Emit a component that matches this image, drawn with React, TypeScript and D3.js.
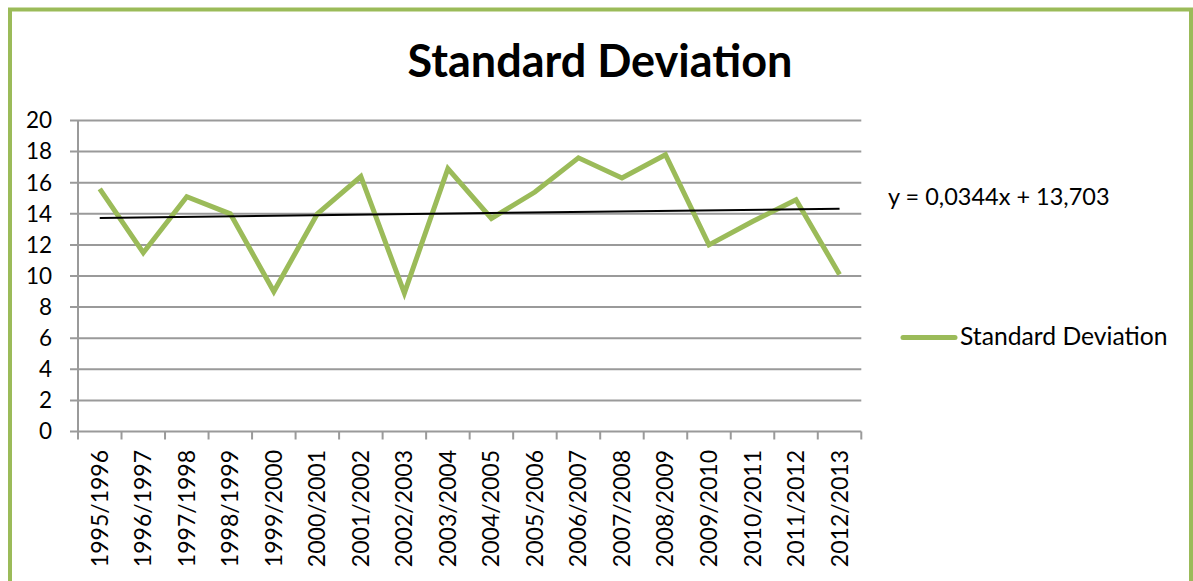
import React from "react";
import * as d3 from "d3";

const categories = [
  "1995/1996", "1996/1997", "1997/1998", "1998/1999", "1999/2000", "2000/2001",
  "2001/2002", "2002/2003", "2003/2004", "2004/2005", "2005/2006", "2006/2007",
  "2007/2008", "2008/2009", "2009/2010", "2010/2011", "2011/2012", "2012/2013",
];
const values = [15.6, 11.5, 15.1, 14.0, 9.0, 14.0, 16.4, 8.9, 16.9, 13.7, 15.4, 17.6, 16.3, 17.8, 12.0, 13.5, 14.9, 10.1];
const yTicks = [0, 2, 4, 6, 8, 10, 12, 14, 16, 18, 20];
const trendSlope = 0.0344;
const trendIntercept = 13.703;
const title = "Standard Deviation";
const seriesName = "Standard Deviation";
const equationLabel = "y = 0,0344x + 13,703";

const W = 1193;
const H = 581;
const green = "#9bbb59";
const grid = "#9a9a9a";
const font = "Lato, 'Open Sans', sans-serif";

export default function App() {
  const left = 78, right = 861.3, top = 120.5, bottom = 431.5;
  const x = d3.scaleBand<string>().domain(categories).range([left, right]).paddingInner(0).paddingOuter(0);
  const y = d3.scaleLinear().domain([0, 20]).range([bottom, top]);
  const cx = (c: string) => (x(c) as number) + x.bandwidth() / 2;

  const line = d3.line<number>().x((_, i) => cx(categories[i])).y((d) => y(d));
  const trendPts = [1, categories.length].map((n) => ({ n, v: trendSlope * n + trendIntercept }));
  const trend = d3.line<{ n: number; v: number }>().x((d) => cx(categories[d.n - 1])).y((d) => y(d.v));

  const tickXs = [...categories.map((c) => x(c) as number), right];

  return (
    <svg width={W} height={H} style={{ position: "absolute", left: 0, top: 0, background: "#fff" }}>
      <rect x={0} y={0} width={W} height={H} fill="#fff" />
      <rect x={10} y={9.5} width={1181} height={640} fill="none" stroke={green} strokeWidth={4} />
      <text x={600} y={76.5} textAnchor="middle" fontFamily={font} fontWeight="bold" fontSize={45} fill="#000">{title}</text>
      {yTicks.map((t) => (
        <g key={t}>
          <line x1={70} x2={right} y1={y(t)} y2={y(t)} stroke={grid} strokeWidth={2} />
          <text x={52} y={y(t) + 7.8} textAnchor="end" fontFamily={font} fontSize={22.5} fill="#000">{t}</text>
        </g>
      ))}
      <line x1={left} x2={left} y1={top} y2={bottom} stroke={grid} strokeWidth={2} />
      {tickXs.map((tx, i) => (
        <line key={i} x1={tx} x2={tx} y1={bottom} y2={bottom + 8} stroke={grid} strokeWidth={2} />
      ))}
      {categories.map((c) => (
        <text key={c} transform={`translate(${cx(c) + 8},450) rotate(-90)`} textAnchor="end" fontFamily={font} fontSize={23} fill="#000">{c}</text>
      ))}
      <path d={line(values) as string} fill="none" stroke={green} strokeWidth={5} strokeLinejoin="miter" />
      <path d={trend(trendPts) as string} fill="none" stroke="#000" strokeWidth={2} />
      <text x={888} y={205} fontFamily={font} fontSize={23.5} fill="#000">{equationLabel}</text>
      <line x1={903} x2={955} y1={337.5} y2={337.5} stroke={green} strokeWidth={5} strokeLinecap="round" />
      <text x={960} y={345} fontFamily={font} fontSize={24.7} fill="#000">{seriesName}</text>
    </svg>
  );
}
